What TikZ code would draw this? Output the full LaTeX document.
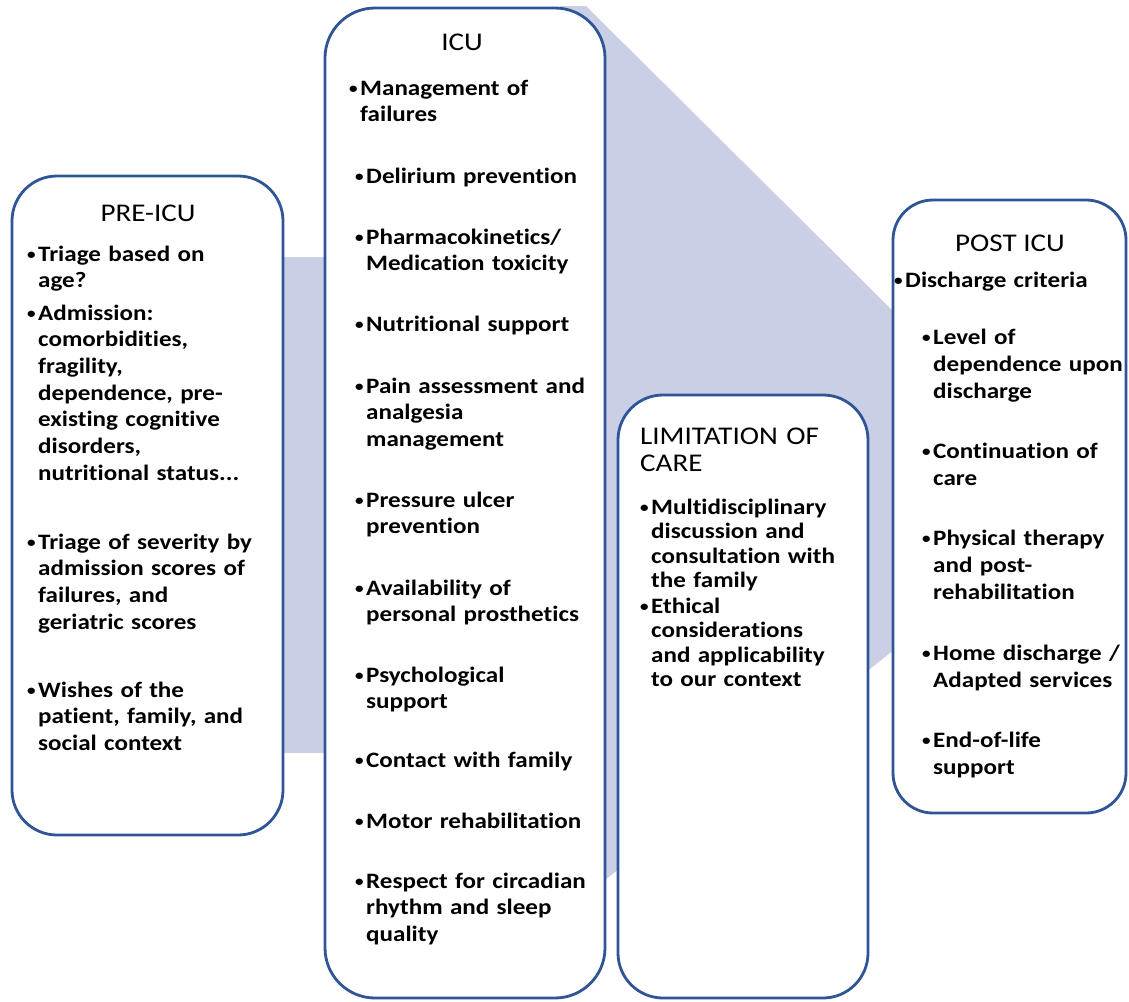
\documentclass[tikz,border=0pt]{standalone}
\usepackage{graphicx}
\usepackage{fontspec}
\setmainfont{Carlito}[FakeStretch=1.14, Ligatures={NoCommon}]
\definecolor{boxblue}{RGB}{47,85,151}
\definecolor{bandfill}{RGB}{201,207,229}
\tikzset{
  stagebox/.style={draw=boxblue, line width=2.8pt, fill=white, rounded corners=#1, inner sep=0pt},
  ttl/.style={font=\fontsize{25.5}{27}\selectfont, anchor=base, inner sep=0pt},
  itm/.style={font=\bfseries\fontsize{22}{#1}\selectfont, anchor=base west, align=left, text width=250pt, inner sep=0pt},
  itm/.default=26.7
}
\newcommand{\bul}{\llap{\raisebox{2pt}{\fontsize{15}{15}\selectfont •}\hspace{2.5pt}}}
\begin{document}
\begin{tikzpicture}[x=1pt,y=-1pt]
\useasboundingbox (0,0) rectangle (1129,1001);
\fill[white] (0,0) rectangle (1129,1001);
% connecting bands
\fill[bandfill] (270,257) rectangle (340,753);
\fill[bandfill] (560,6) -- (586,6) -- (900,318) -- (900,645) -- (600,884) -- (560,884) -- cycle;
% boxes
\node[stagebox=45, minimum width=271pt, minimum height=659pt] (pre) at (147.5,505.5) {};
\node[stagebox=50, minimum width=280pt, minimum height=990pt] (icu) at (465,503) {};
\node[stagebox=45, minimum width=250pt, minimum height=603pt] (lim) at (743,696.5) {};
\node[stagebox=40, minimum width=233pt, minimum height=613pt] (post) at (1009.5,506.5) {};
% PRE-ICU
\node[ttl] (preT) at (148,221) {PRE-ICU};
\node[itm] (pre1) at (38,261) {\bul Triage based on\\age?};
\node[itm] (pre2) at (38,320) {\bul Admission:\\comorbidities,\\fragility,\\dependence, pre-\\existing cognitive\\disorders,\\nutritional status...};
\node[itm] (pre3) at (38,549) {\bul Triage of severity by\\admission scores of\\failures, and\\geriatric scores};
\node[itm] (pre4) at (38,697) {\bul Wishes of the\\patient, family, and\\social context};
% ICU
\node[ttl] (icuT) at (462,50) {ICU};
\node[itm=26.5] (icu1) at (360,95) {\bul Management of\\failures};
\node[itm=26.5] (icu2) at (366,183) {\bul Delirium prevention};
\node[itm=26.5] (icu3) at (366,244) {\bul Pharmacokinetics/\\Medication toxicity};
\node[itm=26.5] (icu4) at (366,331) {\bul Nutritional support};
\node[itm=26.5] (icu5) at (366,393) {\bul Pain assessment and\\analgesia\\management};
\node[itm=26.5] (icu6) at (366,507) {\bul Pressure ulcer\\prevention};
\node[itm=26.5] (icu7) at (366,595) {\bul Availability of\\personal prosthetics};
\node[itm=26.5] (icu8) at (366,682) {\bul Psychological\\support};
\node[itm=26.5] (icu9) at (366,767) {\bul Contact with family};
\node[itm=26.5] (icu10) at (366,828) {\bul Motor rehabilitation};
\node[itm=26.5] (icu11) at (366,888) {\bul Respect for circadian\\rhythm and sleep\\quality};
% LIMITATION OF CARE
\node[ttl, anchor=base west, align=left, text width=230pt] (limT) at (640,444) {LIMITATION OF\\CARE};
\node[itm=24.6] (lim1) at (651,514) {\bul Multidisciplinary\\discussion and\\consultation with\\the family};
\node[itm=24.6] (lim2) at (651,613) {\bul Ethical\\considerations\\and applicability\\to our context};
% POST ICU
\node[ttl] (postT) at (1010,251) {POST ICU};
\node[itm=27] (post1) at (905,287) {\bul Discharge criteria};
\node[itm=27] (post2) at (933,344) {\bul Level of\\dependence upon\\discharge};
\node[itm=27] (post3) at (933,458) {\bul Continuation of\\care};
\node[itm=27] (post4) at (933,545) {\bul Physical therapy\\and post-\\rehabilitation};
\node[itm=27] (post5) at (933,660) {\bul Home discharge /\\Adapted services};
\node[itm=27] (post6) at (933,747) {\bul End-of-life\\support};
\end{tikzpicture}
\end{document}
